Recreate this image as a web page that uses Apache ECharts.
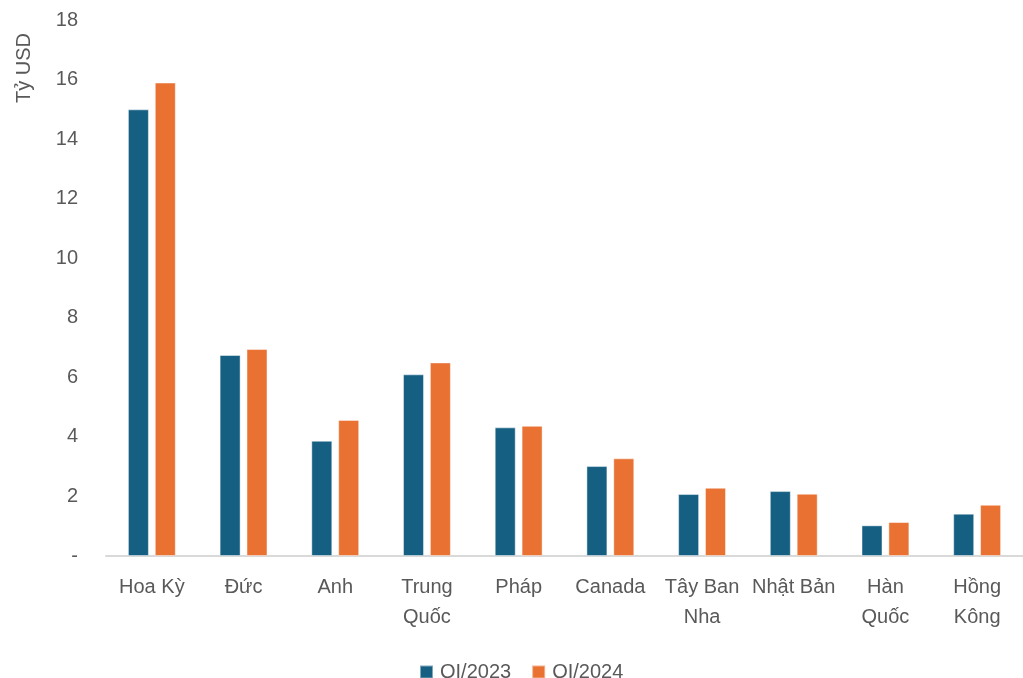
<!DOCTYPE html>
<html>
<head>
<meta charset="utf-8">
<script src="https://cdn.jsdelivr.net/npm/echarts@6/dist/echarts.min.js"></script>
<style>
    html, body { margin: 0; padding: 0; background: #fff; }
    #chart { width: 1023px; height: 678px; }
</style>
</head>
<body>
<div id="chart"></div>
<script>
// dữ liệu
const categories = ['Hoa Kỳ', 'Đức', 'Anh', 'Trung\nQuốc', 'Pháp', 'Canada', 'Tây Ban\nNha', 'Nhật Bản', 'Hàn\nQuốc', 'Hồng\nKông'];
const seriesNames = ['QI/2023', 'QI/2024'];
const q1_2023 = [15.0, 6.75, 3.87, 6.1, 4.32, 3.02, 2.08, 2.18, 1.03, 1.42];
const q1_2024 = [15.9, 6.95, 4.57, 6.5, 4.37, 3.28, 2.29, 2.09, 1.14, 1.72];
const colors = ['#156082', '#E97132'];

const FONT = 'Liberation Sans, Arial, sans-serif';

const myChart = echarts.init(document.getElementById('chart'));
myChart.setOption({
    animation: false,
    textStyle: { fontFamily: FONT },
    grid: {
        left: 106,
        right: -6,
        top: 20,
        bottom: 122,
        containLabel: false
    },
    legend: {
        top: 657,
        left: 414,
        itemWidth: 13,
        itemHeight: 13,
        itemGap: 20,
        icon: 'rect',
        textStyle: { fontSize: 20, color: '#595959', fontFamily: FONT, padding: [0, 0, 0, 2] },
        data: seriesNames
    },
    graphic: [
        {
            type: 'text',
            left: 14,
            top: 33,
            rotation: Math.PI / 2,
            style: {
                text: 'Tỷ USD',
                fontSize: 20,
                fontFamily: FONT,
                fill: '#595959'
            }
        }
    ],
    xAxis: [
        {
            type: 'category',
            data: categories,
            axisTick: { show: false },
            axisLine: { lineStyle: { color: '#d9d9d9', width: 2 } },
            axisLabel: {
                fontSize: 20,
                color: '#595959',
                lineHeight: 30,
                margin: 16,
                interval: 0
            }
        }
    ],
    yAxis: [
        {
            type: 'value',
            min: 0,
            max: 18,
            interval: 2,
            splitLine: { show: false },
            axisLine: { show: false },
            axisTick: { show: false },
            axisLabel: {
                fontSize: 20,
                color: '#595959',
                margin: 28,
                formatter: (v) => (v === 0 ? '-' : String(v))
            }
        }
    ],
    series: [
        {
            name: seriesNames[0],
            type: 'bar',
            data: q1_2023,
            barWidth: 21,
            barGap: '28%',
            itemStyle: {
                color: colors[0],
                borderColor: 'rgba(255,255,255,0.45)',
                borderWidth: 1
            }
        },
        {
            name: seriesNames[1],
            type: 'bar',
            data: q1_2024,
            barWidth: 21,
            barGap: '28%',
            itemStyle: {
                color: colors[1],
                borderColor: 'rgba(255,255,255,0.45)',
                borderWidth: 1
            }
        }
    ]
});
</script>
</body>
</html>
